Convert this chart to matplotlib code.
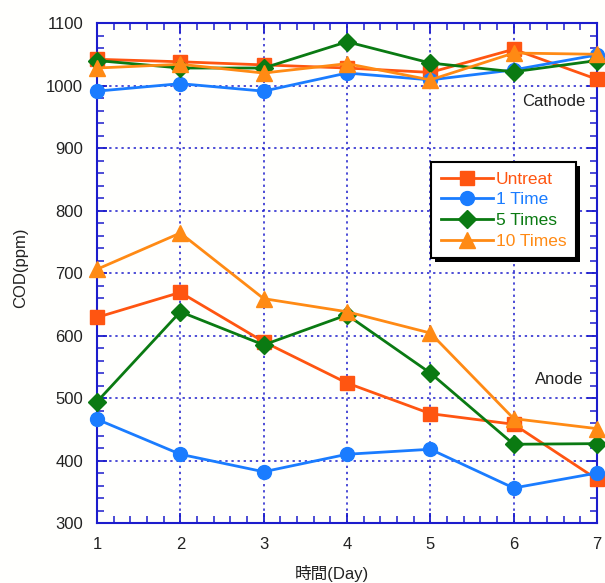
import matplotlib.pyplot as plt
from matplotlib.ticker import MultipleLocator
from matplotlib.patches import Rectangle

plt.rcParams['font.family'] = ['Liberation Sans', 'Noto Sans CJK JP', 'DejaVu Sans']

# COD readings per day
days = [1, 2, 3, 4, 5, 6, 7]
labels = ["Untreat", "1 Time", "5 Times", "10 Times"]

cathode_untreat = [1042, 1038, 1033, 1028, 1021, 1058, 1010]
cathode_1time = [991, 1003, 991, 1020, 1009, 1025, 1049]
cathode_5times = [1040, 1028, 1028, 1070, 1036, 1022, 1040]
cathode_10times = [1028, 1034, 1020, 1035, 1009, 1052, 1050]

anode_untreat = [629, 669, 590, 524, 475, 458, 370]
anode_1time = [466, 410, 382, 410, 418, 356, 380]
anode_5times = [494, 638, 585, 633, 540, 426, 427]
anode_10times = [706, 764, 659, 638, 604, 467, 451]

colors = ["#ff5511", "#1a7cff", "#0a7a12", "#ff8a14"]
markers = ["s", "o", "D", "^"]
msizes = [10, 10, 9.5, 11]

blue = "#1c1ccc"
txt = "#222222"

fig = plt.figure(figsize=(6.05, 5.83), dpi=100, facecolor="#fffffd")
ax = fig.add_axes([0.1603, 0.1029, 0.8265, 0.8576], facecolor="#fffffd")

cathode = [cathode_untreat, cathode_1time, cathode_5times, cathode_10times]
anode = [anode_untreat, anode_1time, anode_5times, anode_10times]

for i in range(4):
    ax.plot(days, cathode[i], color=colors[i], marker=markers[i], ms=msizes[i],
            lw=2, label=labels[i], clip_on=False, zorder=3)
    ax.plot(days, anode[i], color=colors[i], marker=markers[i], ms=msizes[i],
            lw=2, clip_on=False, zorder=3)

ax.set_xlim(1, 7)
ax.set_ylim(300, 1100)
ax.xaxis.set_major_locator(MultipleLocator(1))
ax.xaxis.set_minor_locator(MultipleLocator(0.2))
ax.yaxis.set_major_locator(MultipleLocator(100))
ax.yaxis.set_minor_locator(MultipleLocator(20))

ax.grid(True, which="major", color=blue, linestyle=(0, (1.5, 2.5)), lw=1.1)
for s in ax.spines.values():
    s.set_color(blue)
    s.set_linewidth(1.5)

ax.tick_params(which="both", direction="in", top=True, right=True, color=blue,
               labelsize=12, labelcolor=txt)
ax.tick_params(which="major", length=7, width=1.3, pad=10)
ax.tick_params(which="minor", length=5, width=1.1)

ax.set_ylabel("COD(ppm)", fontsize=12, color=txt)
ax.set_xlabel("時間(Day)", fontsize=12, color=txt)
ax.yaxis.set_label_coords(-0.138, 0.51)
ax.xaxis.set_label_coords(0.47, -0.084)

ax.text(6.86, 975, "Cathode", ha="right", va="center", fontsize=12, color=txt)
ax.text(6.83, 529, "Anode", ha="right", va="center", fontsize=12, color=txt)

leg = ax.legend(loc="upper left", bbox_to_anchor=(0.668, 0.722), borderaxespad=0,
                fontsize=12.5, labelcolor="linecolor", handlelength=3.0,
                handletextpad=0.2, labelspacing=0.32, borderpad=0.55,
                fancybox=False, framealpha=1, edgecolor="black")
leg.get_frame().set_linewidth(1.5)
leg.set_zorder(6)

# solid black drop shadow behind the legend box
fig.canvas.draw()
bb = leg.get_window_extent()
ax.add_patch(Rectangle((bb.x0 + 4, bb.y0 - 4), bb.width, bb.height,
                       transform=None, facecolor="black", edgecolor="none",
                       zorder=5.9, clip_on=False))

fig.savefig("out.png", dpi=100, facecolor=fig.get_facecolor())
